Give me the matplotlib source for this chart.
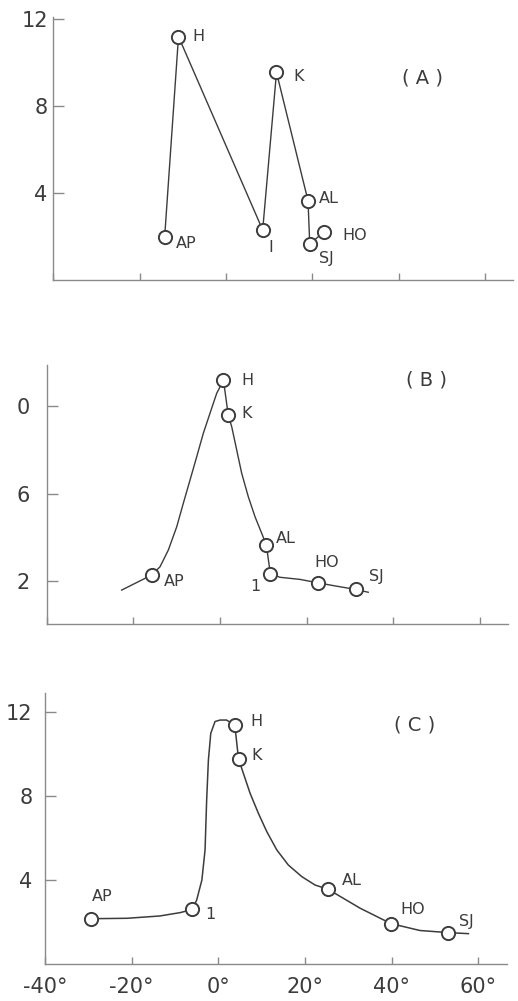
import matplotlib.pyplot as plt

# панель (A): точки соединены прямыми
labels_a = ["AP", "H", "I", "K", "AL", "SJ", "HO"]
x_a = [-14.2, -11.0, 8.5, 11.7, 19.0, 19.4, 22.6]
y_a = [2.0, 11.2, 2.3, 9.55, 3.65, 1.65, 2.2]

# панель (B): точки и кривая
labels_b = ["AP", "H", "K", "AL", "1", "HO", "SJ"]
x_b = [-15.8, 0.8, 1.9, 10.7, 11.6, 22.7, 31.3]
y_b = [2.25, 11.2, 9.6, 3.63, 2.32, 1.89, 1.59]
curve_bx = [-22.7, -15.8, -13.85, -11.93, -9.99, -8.47, -6.92, -5.38, -3.85,
            -2.31, -0.76, 0.8, 1.9, 2.7, 3.85, 5.0, 6.53, 8.08, 9.62, 10.7,
            11.6, 13.8, 18.5, 22.7, 26.9, 31.3, 34.2]
curve_by = [1.56, 2.25, 2.63, 3.40, 4.47, 5.55, 6.62, 7.69, 8.77,
            9.69, 10.61, 11.2, 9.6, 9.07, 8.0, 6.93, 5.85, 4.93, 4.17, 3.63,
            2.32, 2.15, 2.05, 1.89, 1.74, 1.59, 1.46]

# панель (C)
labels_c = ["AP", "1", "H", "K", "AL", "HO", "SJ"]
x_c = [-29.4, -6.0, 3.8, 4.65, 25.3, 39.8, 53.0]
y_c = [2.16, 2.6, 11.35, 9.75, 3.56, 1.93, 1.5]
curve_cx = [-29.4, -21.1, -13.5, -8.8, -6.0, -5.0, -3.8, -3.07, -2.7, -2.3, -1.75,
            -0.77, 0.4, 1.9, 3.8, 4.65, 5.77, 7.32, 9.23, 11.17, 13.48, 16.15,
            19.25, 22.32, 25.3, 32.7, 39.8, 46.5, 53.0, 57.7]
curve_cy = [2.16, 2.18, 2.29, 2.45, 2.6, 3.05, 4.0, 5.43, 7.8, 9.7, 10.97,
            11.53, 11.6, 11.6, 11.35, 9.75, 9.07, 8.12, 7.17, 6.30, 5.43, 4.71,
            4.16, 3.76, 3.56, 2.66, 1.93, 1.6, 1.5, 1.45]

x_ticks = [-40, -20, 0, 20, 40, 60]
x_ticklabels = ["-40°", "-20°", "0°", "20°", "40°", "60°"]

# смещения подписей точек в пикселях (dx, dy, ha)
offs_a = [(11, -7, "left"), (14, 0, "left"), (8, -18, "center"), (17, -4, "left"),
          (11, 2, "left"), (9, -14, "left"), (19, -3, "left")]
offs_b = [(12, -6, "left"), (18, 0, "left"), (13, 2, "left"), (9, 7, "left"),
          (-15, -13, "center"), (8, 20, "center"), (13, 13, "left")]
offs_c = [(11, 22, "center"), (13, -5, "left"), (16, 4, "left"), (13, 3, "left"),
          (14, 9, "left"), (10, 14, "left"), (11, 11, "left")]

ink = "#3c3c3c"
axis_col = "#8a8a8a"

fig = plt.figure(figsize=(5.18, 10.01), dpi=100)
fig.patch.set_facecolor("white")


def setup(ax, ylim, yticks, yticklabels, ypad, xlabels):
    ax.set_xlim(-40, 66.5)
    ax.set_ylim(*ylim)
    for s in ["top", "right"]:
        ax.spines[s].set_visible(False)
    for s in ["left", "bottom"]:
        ax.spines[s].set_color(axis_col)
        ax.spines[s].set_linewidth(1.0)
    ax.set_yticks(yticks)
    ax.set_yticklabels(yticklabels)
    ax.set_xticks(x_ticks)
    if xlabels:
        ax.set_xticklabels(x_ticklabels)
    else:
        ax.set_xticklabels([""] * len(x_ticks))
    ax.tick_params(axis="y", direction="in", length=8, width=1, color=axis_col,
                   labelsize=15, labelcolor=ink, pad=ypad)
    ax.tick_params(axis="x", direction="in", length=5, width=1, color=axis_col,
                   labelsize=15, labelcolor=ink, pad=9)


def draw_points(ax, xs, ys, labels, offs):
    ax.plot(xs, ys, "o", ms=9.5, mfc="white", mec=ink, mew=1.4, zorder=3)
    for x, y, t, (dx, dy, ha) in zip(xs, ys, labels, offs):
        ax.annotate(t, (x, y), xytext=(dx, dy), textcoords="offset pixels",
                    ha=ha, va="center", fontsize=11.5, color=ink)


ax_a = fig.add_axes([0.1029, 0.7203, 0.8876, 0.2627])
setup(ax_a, (0, 12.1), [4, 8, 12], ["4", "8", "12"], 4, False)
ax_a.plot(x_a, y_a, color=ink, lw=1.0, zorder=2)
draw_points(ax_a, x_a, y_a, labels_a, offs_a)

ax_b = fig.add_axes([0.0901, 0.3766, 0.891, 0.2586])
setup(ax_b, (0, 11.9), [2, 6, 10], ["2", "6", "0"], 12, False)
ax_b.plot(curve_bx, curve_by, color=ink, lw=1.0, zorder=2, solid_joinstyle="round")
draw_points(ax_b, x_b, y_b, labels_b, offs_b)

ax_c = fig.add_axes([0.0869, 0.0368, 0.891, 0.2712])
setup(ax_c, (0, 12.9), [4, 8, 12], ["4", "8", "12"], 9, True)
ax_c.plot(curve_cx, curve_cy, color=ink, lw=1.1, zorder=2, solid_joinstyle="round")
draw_points(ax_c, x_c, y_c, labels_c, offs_c)

fig.text(0.8166, 0.922, "( A )", ha="center", va="center", fontsize=14, color=ink)
fig.text(0.8237, 0.6204, "( B )", ha="center", va="center", fontsize=14, color=ink)
fig.text(0.801, 0.2757, "( C )", ha="center", va="center", fontsize=14, color=ink)

fig.savefig("out.png", dpi=100, facecolor="white")
